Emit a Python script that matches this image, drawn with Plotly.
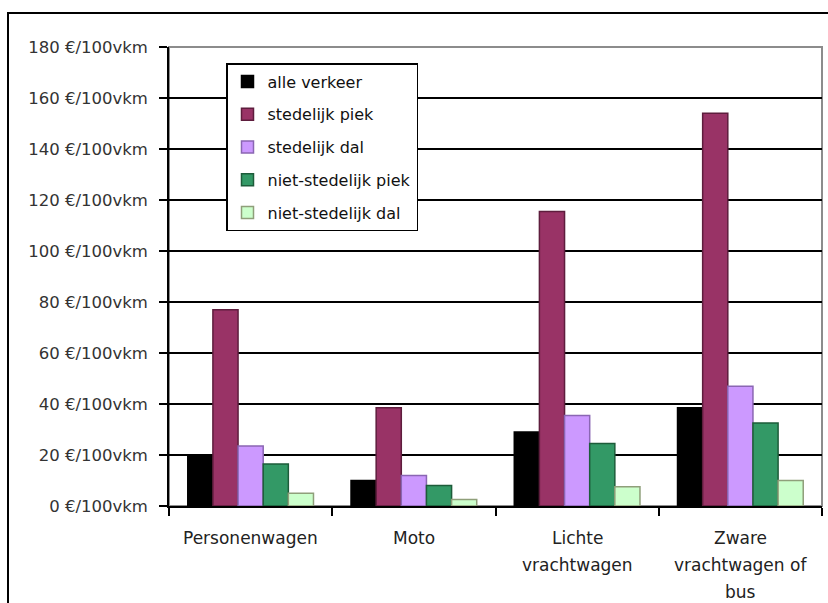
import plotly.graph_objects as go

# Vehicle categories and external cost per 100 vehicle-km
categories = ["Personenwagen", "Moto", "Lichte vrachtwagen", "Zware vrachtwagen of bus"]
category_lines = [["Personenwagen"], ["Moto"], ["Lichte", "vrachtwagen"], ["Zware", "vrachtwagen of", "bus"]]

series_names = ["alle verkeer", "stedelijk piek", "stedelijk dal", "niet-stedelijk piek", "niet-stedelijk dal"]
alle_verkeer = [20, 10, 29, 38.5]
stedelijk_piek = [77, 38.5, 115.5, 154]
stedelijk_dal = [23.5, 12, 35.5, 47]
niet_stedelijk_piek = [16.5, 8, 24.5, 32.5]
niet_stedelijk_dal = [5, 2.5, 7.5, 10]
series_values = [alle_verkeer, stedelijk_piek, stedelijk_dal, niet_stedelijk_piek, niet_stedelijk_dal]

fill_colors = ["#000000", "#993366", "#CC99FF", "#339966", "#CCFFCC"]
edge_colors = ["#000000", "#5e1d3d", "#8a66b3", "#1d5c3a", "#8f9f7a"]

y_ticks = list(range(0, 181, 20))
y_tick_text = [f"{v} €/100vkm" for v in y_ticks]

FONT = "DejaVu Sans"

fig = go.Figure()
for i, (name, vals) in enumerate(zip(series_names, series_values)):
    fig.add_trace(go.Bar(
        x=categories, y=vals, name=name,
        legendgroup=f"g{i}",
        marker=dict(color=fill_colors[i], line=dict(color=edge_colors[i], width=1.5)),
    ))

# Multi-line category labels below the axis
annotations = []
for cat, lines in zip(categories, category_lines):
    for j, line in enumerate(lines):
        annotations.append(dict(
            x=cat, xref="x", y=0, yref="paper", yanchor="middle",
            yshift=-32 - 27 * j, text=line, showarrow=False,
            font=dict(family=FONT, size=17, color="#222222"),
        ))

L, R, T, B = 169, 6, 47, 97
W, H = 828, 603
pw, ph = W - L - R, H - T - B

def px_x(p):
    return (p - L) / pw

def px_y(p):
    return (H - B - p) / ph

shapes = [
    # plot area frame
    dict(type="rect", xref="paper", yref="paper", x0=0, x1=1, y0=0, y1=1,
         line=dict(color="#8c8c8c", width=2), layer="below"),
    # outer chart frame
    dict(type="rect", xref="paper", yref="paper",
         x0=px_x(8), x1=px_x(840), y0=px_y(620), y1=px_y(13),
         line=dict(color="#000000", width=2)),
]

fig.update_layout(
    width=W, height=H,
    margin=dict(l=L, r=R, t=T, b=B),
    paper_bgcolor="white", plot_bgcolor="white",
    barmode="group", bargap=0.23, bargroupgap=0,
    font=dict(family=FONT, size=16, color="#222222"),
    showlegend=True,
    legend=dict(
        x=px_x(226), y=px_y(63), xanchor="left", yanchor="top",
        bgcolor="white", bordercolor="#000000", borderwidth=1.5,
        font=dict(family=FONT, size=16, color="#111111"),
        traceorder="grouped", tracegroupgap=9,
        itemwidth=30,
    ),
    annotations=annotations,
    shapes=shapes,
)

fig.update_xaxes(
    showticklabels=False, ticks="outside", tickson="boundaries",
    ticklen=8, tickcolor="#000000", tickwidth=1.5,
    showline=True, linecolor="#000000", linewidth=1.5,
    showgrid=False,
)
fig.update_yaxes(
    range=[0, 180], tickvals=y_ticks, ticktext=y_tick_text,
    ticks="outside", ticklen=8, tickcolor="#000000", tickwidth=1.5,
    showline=True, linecolor="#000000", linewidth=1.5,
    showgrid=True, gridcolor="#000000", gridwidth=1.5,
    ticklabelstandoff=8,
    tickfont=dict(family=FONT, size=16.5, color="#333333"),
    zeroline=False,
)

fig.write_html("out.html")
